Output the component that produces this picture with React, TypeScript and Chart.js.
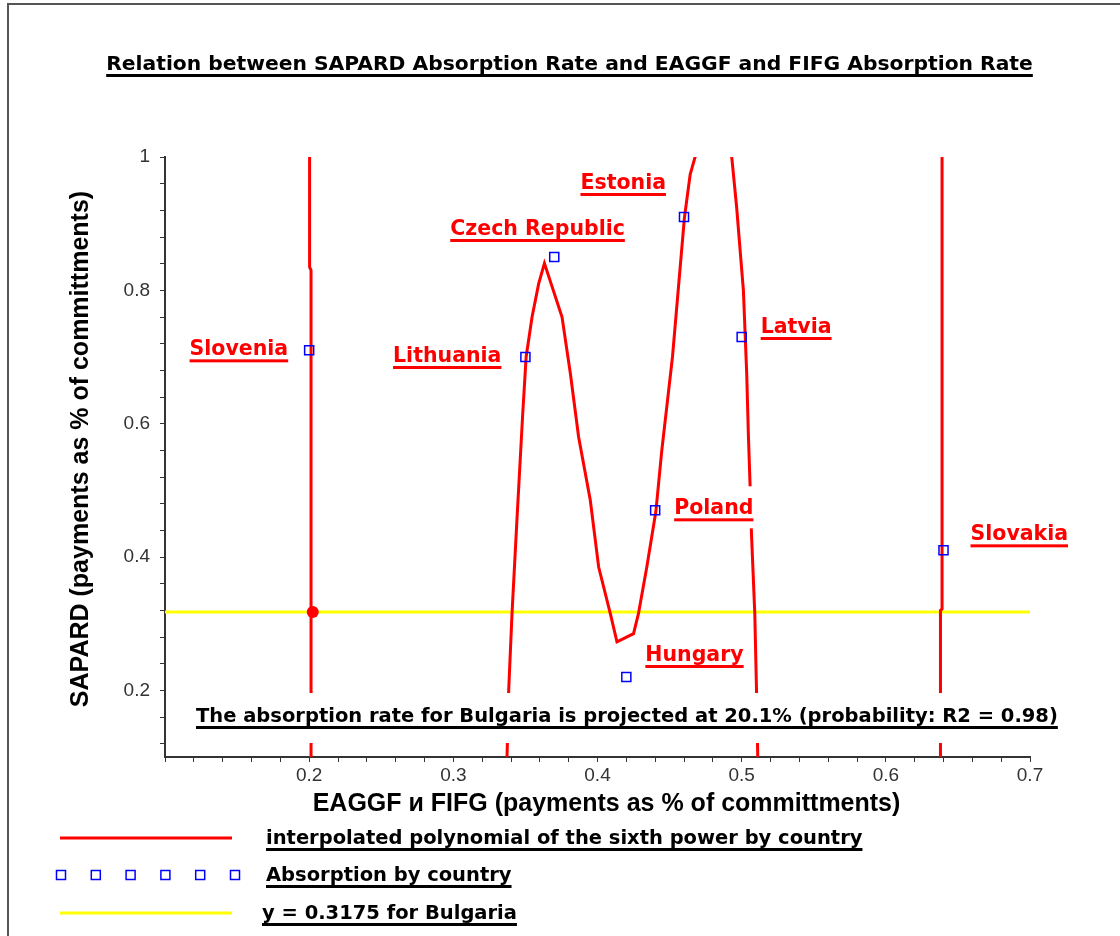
import React, { useEffect, useRef } from 'react';
import { Chart, registerables } from 'chart.js';

Chart.register(...registerables);

// Sixth-power polynomial by country, traced as the four branches that cross the visible window.
// Points outside 0.1..1 on the SAPARD axis are clipped by the chart area.
const sloveniaBranchX = [0.2003, 0.2003, 0.2013, 0.2013];
const sloveniaBranchY = [1.05, 0.835, 0.83, 0.05];

const middleBranchX = [
  0.3365, 0.3375, 0.3384, 0.3407, 0.3441, 0.348, 0.3505, 0.3546, 0.3592, 0.3632,
  0.3754, 0.3812, 0.3869, 0.395, 0.4008, 0.4089, 0.4135, 0.425, 0.4284, 0.4342,
  0.4405, 0.4446, 0.452, 0.4603, 0.4643, 0.4677, 0.4695,
];
const middleBranchY = [
  0.05, 0.12, 0.2, 0.315, 0.455, 0.61, 0.7, 0.76, 0.81, 0.8405,
  0.76, 0.675, 0.58, 0.485, 0.385, 0.315, 0.2727, 0.285, 0.315, 0.385,
  0.4685, 0.56, 0.7, 0.909, 0.974, 1.0, 1.05,
];

const latviaBranchX = [0.4915, 0.4931, 0.4965, 0.5012, 0.5035, 0.5047, 0.5058, 0.5068, 0.5091, 0.5103, 0.511, 0.5115];
const latviaBranchY = [1.05, 1.0, 0.925, 0.8, 0.675, 0.58, 0.51, 0.435, 0.315, 0.2, 0.12, 0.05];

const slovakiaBranchX = [0.6379, 0.6379, 0.639, 0.639];
const slovakiaBranchY = [0.05, 0.32, 0.322, 1.05];

// Absorption by country
const countries = ['Slovenia', 'Lithuania', 'Czech Republic', 'Estonia', 'Latvia', 'Poland', 'Hungary', 'Slovakia'];
const eaggfFifgRate = [0.2, 0.35, 0.37, 0.46, 0.5, 0.44, 0.42, 0.64];
const sapardRate = [0.71, 0.7, 0.85, 0.91, 0.73, 0.47, 0.22, 0.41];

// Bulgaria
const bulgariaLevel = 0.3175;
const bulgariaEaggf = 0.2025;
const bulgariaLineX = [0.1, 0.7];

// Axes
const xRange = [0.1, 0.7];
const yRange = [0.1, 1.0];
const xTickLabels = [0.2, 0.3, 0.4, 0.5, 0.6, 0.7];
const yTickLabels = [0.2, 0.4, 0.6, 0.8, 1];
const xMinorStep = 0.02;
const yMinorStep = 0.04;

const titleText = 'Relation between SAPARD Absorption Rate and EAGGF and FIFG Absorption Rate';
const xTitleText = 'EAGGF и FIFG (payments as % of committments)';
const yTitleText = 'SAPARD (payments as % of committments)';
const noteText = 'The absorption rate for Bulgaria is projected at 20.1% (probability: R2 = 0.98)';
const legendTexts = [
  'interpolated polynomial of the sixth power by country',
  'Absorption by country',
  'y = 0.3175 for Bulgaria',
];

// Where each country name sits relative to its marker (pixels)
const labelPlacement: { align: 'left' | 'right'; dx: number; dy: number }[] = [
  { align: 'right', dx: -21, dy: 5 },
  { align: 'right', dx: -24, dy: 5 },
  { align: 'left', dx: -104, dy: -22 },
  { align: 'right', dx: -18, dy: -28 },
  { align: 'left', dx: 19, dy: -4 },
  { align: 'left', dx: 19, dy: 4 },
  { align: 'left', dx: 19, dy: -16 },
  { align: 'left', dx: 27, dy: -10 },
];

const RED = '#ff0000';
const BLUE = '#0000ff';
const YELLOW = '#ffff00';
const AXIS = '#333333';

const LABEL_FONT = 'bold 20.5px "DejaVu Sans"';
const NOTE_FONT = 'bold 19.5px "DejaVu Sans"';
const TITLE_FONT = 'bold 20.3px "DejaVu Sans"';
const AXIS_TITLE_FONT = 'bold 25px "Liberation Sans"';

const stepTicks = (from: number, to: number, step: number) => {
  const out: number[] = [];
  const n = Math.round((to - from) / step);
  for (let i = 0; i <= n; i++) out.push(Math.round((from + i * step) * 1000) / 1000);
  return out;
};

const pairs = (xs: number[], ys: number[]) => xs.map((x, i) => ({ x, y: ys[i] }));

const tickLabel = (labels: number[]) => (value: number | string) => {
  const v = Number(value);
  const hit = labels.find((l) => Math.abs(l - v) < 1e-6);
  return hit === undefined ? '' : String(hit);
};

type Align = 'left' | 'right' | 'center';

function underlined(
  ctx: CanvasRenderingContext2D,
  text: string,
  x: number,
  baseline: number,
  font: string,
  color: string,
  align: Align,
  clearBehind: boolean,
) {
  ctx.font = font;
  const w = ctx.measureText(text).width;
  const left = align === 'right' ? x - w : align === 'center' ? x - w / 2 : x;
  if (clearBehind) {
    ctx.fillStyle = '#ffffff';
    ctx.fillRect(left - 3, baseline - 28, w + 6, 42);
  }
  ctx.fillStyle = color;
  ctx.textAlign = 'left';
  ctx.textBaseline = 'alphabetic';
  ctx.fillText(text, left, baseline);
  ctx.fillRect(left, baseline + 4, w, 3);
}

const decorations = {
  id: 'decorations',
  beforeDraw(chart: Chart) {
    const ctx = chart.ctx;
    ctx.save();
    ctx.fillStyle = '#ffffff';
    ctx.fillRect(0, 0, chart.width, chart.height);
    // frame
    ctx.strokeStyle = '#555555';
    ctx.lineWidth = 2;
    ctx.beginPath();
    ctx.moveTo(8, chart.height);
    ctx.lineTo(8, 4);
    ctx.lineTo(chart.width, 4);
    ctx.stroke();
    ctx.restore();
  },
  afterDatasetsDraw(chart: Chart) {
    const ctx = chart.ctx;
    const xs = chart.scales.x;
    const ys = chart.scales.y;
    const area = chart.chartArea;
    ctx.save();

    // country names
    countries.forEach((name, i) => {
      const p = labelPlacement[i];
      const px = xs.getPixelForValue(eaggfFifgRate[i]);
      const py = ys.getPixelForValue(sapardRate[i]);
      underlined(ctx, name, px + p.dx, py + p.dy, LABEL_FONT, RED, p.align, true);
    });

    // projection note
    ctx.fillStyle = '#ffffff';
    ctx.fillRect(190, 693, 870, 50);
    underlined(ctx, noteText, 196, 722, NOTE_FONT, '#000000', 'left', false);

    // title
    underlined(ctx, titleText, (area.left + area.right) / 2 - 28, 70, TITLE_FONT, '#000000', 'center', false);

    // axis titles
    ctx.font = AXIS_TITLE_FONT;
    ctx.fillStyle = '#000000';
    ctx.textAlign = 'center';
    ctx.textBaseline = 'middle';
    ctx.fillText(xTitleText, (area.left + area.right) / 2 + 9, 804);
    ctx.save();
    ctx.translate(81, (area.top + area.bottom) / 2 - 8);
    ctx.rotate(-Math.PI / 2);
    ctx.fillText(yTitleText, 0, 0);
    ctx.restore();

    // legend
    const rows = [838, 875, 913];
    ctx.fillStyle = RED;
    ctx.fillRect(60, rows[0] - 1.5, 172, 3);
    ctx.strokeStyle = BLUE;
    ctx.lineWidth = 1.5;
    for (let k = 0; k < 6; k++) {
      const cx = 61 + k * 34.8;
      ctx.strokeRect(cx - 4.5, rows[1] - 4.5, 9, 9);
    }
    ctx.fillStyle = YELLOW;
    ctx.fillRect(60, rows[2] - 1.5, 172, 3);
    underlined(ctx, legendTexts[0], 266, rows[0] + 6, NOTE_FONT, '#000000', 'left', false);
    underlined(ctx, legendTexts[1], 266, rows[1] + 6, NOTE_FONT, '#000000', 'left', false);
    underlined(ctx, legendTexts[2], 262, rows[2] + 6, NOTE_FONT, '#000000', 'left', false);

    ctx.restore();
  },
};

const curveStyle = {
  showLine: true,
  borderColor: RED,
  backgroundColor: RED,
  borderWidth: 3,
  pointRadius: 0,
  tension: 0,
  clip: 0,
  order: 4,
};

export default function App() {
  const canvasRef = useRef<HTMLCanvasElement | null>(null);

  useEffect(() => {
    const canvas = canvasRef.current;
    if (!canvas) return;

    const axisGrid = {
      display: true,
      drawOnChartArea: false,
      drawTicks: true,
      tickLength: 5,
      color: AXIS,
      tickColor: AXIS,
      lineWidth: 1,
    };
    const tickFont = { family: '"Liberation Sans"', size: 19, weight: 'normal' as const };

    const chart = new Chart(canvas, {
      type: 'scatter',
      data: {
        datasets: [
          {
            label: legendTexts[2],
            data: pairs(bulgariaLineX, bulgariaLineX.map(() => bulgariaLevel)),
            showLine: true,
            borderColor: YELLOW,
            backgroundColor: YELLOW,
            borderWidth: 3,
            pointRadius: 0,
            order: 5,
          },
          { label: legendTexts[0], data: pairs(sloveniaBranchX, sloveniaBranchY), ...curveStyle },
          { label: legendTexts[0], data: pairs(middleBranchX, middleBranchY), ...curveStyle },
          { label: legendTexts[0], data: pairs(latviaBranchX, latviaBranchY), ...curveStyle },
          { label: legendTexts[0], data: pairs(slovakiaBranchX, slovakiaBranchY), ...curveStyle },
          {
            label: 'Bulgaria',
            data: [{ x: bulgariaEaggf, y: bulgariaLevel }],
            pointRadius: 6,
            pointStyle: 'circle',
            backgroundColor: RED,
            borderColor: RED,
            borderWidth: 0,
            order: 2,
          },
          {
            label: legendTexts[1],
            data: pairs(eaggfFifgRate, sapardRate),
            pointStyle: 'rect',
            pointRadius: 6.4,
            borderColor: BLUE,
            backgroundColor: 'rgba(0,0,0,0)',
            borderWidth: 1.5,
            order: 1,
          },
        ],
      },
      options: {
        responsive: false,
        devicePixelRatio: 1,
        animation: false,
        events: [],
        layout: { padding: { left: 0, top: 157, right: 90, bottom: 139 } },
        plugins: {
          legend: { display: false },
          tooltip: { enabled: false },
          title: { display: false },
        },
        scales: {
          x: {
            type: 'linear',
            position: 'bottom',
            min: xRange[0],
            max: xRange[1],
            afterBuildTicks: (scale: any) => {
              scale.ticks = stepTicks(xRange[0], xRange[1], xMinorStep).map((value) => ({ value }));
            },
            afterFit: (scale: any) => {
              scale.height = 40;
            },
            grid: axisGrid,
            border: { display: true, color: AXIS, width: 2 },
            ticks: {
              autoSkip: false,
              maxRotation: 0,
              padding: 2,
              color: AXIS,
              font: tickFont,
              callback: tickLabel(xTickLabels),
            },
          },
          y: {
            type: 'linear',
            position: 'left',
            min: yRange[0],
            max: yRange[1],
            afterBuildTicks: (scale: any) => {
              scale.ticks = stepTicks(0.12, yRange[1], yMinorStep).map((value) => ({ value }));
            },
            afterFit: (scale: any) => {
              scale.width = 165;
            },
            grid: axisGrid,
            border: { display: true, color: AXIS, width: 2 },
            ticks: {
              autoSkip: false,
              padding: 10,
              color: AXIS,
              font: tickFont,
              callback: tickLabel(yTickLabels),
            },
          },
        },
      },
      plugins: [decorations],
    });

    return () => chart.destroy();
  }, []);

  return (
    <div style={{ position: 'absolute', left: 0, top: 0, width: 1120, height: 936, background: '#fff' }}>
      <canvas ref={canvasRef} width={1120} height={936} style={{ display: 'block' }} />
    </div>
  );
}
